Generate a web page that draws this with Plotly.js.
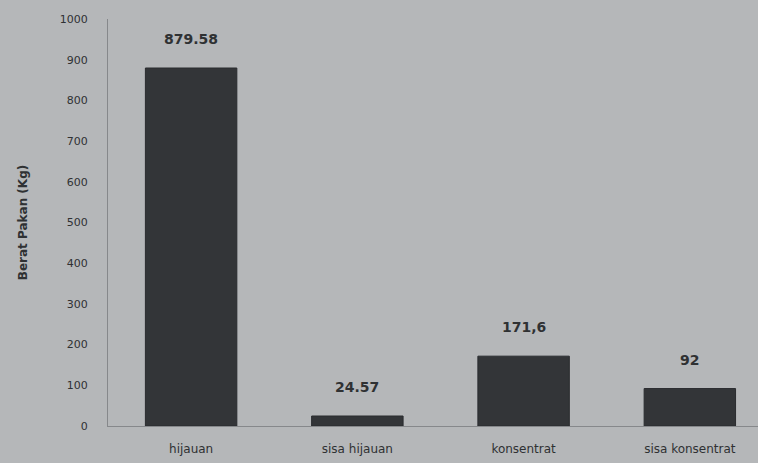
<!DOCTYPE html>
<html>
<head>
<meta charset="utf-8">
<script src="https://cdn.plot.ly/plotly-3.0.1.min.js"></script>
<style>
html,body{margin:0;padding:0;background:#b5b7b9;overflow:hidden;}
#chart{width:758px;height:463px;}
</style>
</head>
<body>
<div id="chart"></div>
<script>
var categories = ["hijauan", "sisa hijauan", "konsentrat", "sisa konsentrat"];
var values = [879.58, 24.57, 171.6, 92];
var valueLabels = ["879.58", "24.57", "171,6", "92"];
var yTicks = [0, 100, 200, 300, 400, 500, 600, 700, 800, 900, 1000];

var textColor = "#2f3133";
var font = "DejaVu Sans, Liberation Sans, sans-serif";

var trace = {
  type: "bar",
  x: categories,
  y: values,
  width: 0.55,
  marker: {color: "#333538", line: {color: "#2a2c2f", width: 1}},
  hoverinfo: "none"
};

var annotations = categories.map(function (c, i) {
  return {
    x: c, y: values[i], text: valueLabels[i],
    showarrow: false, yanchor: "middle", yshift: 29,
    font: {family: font, size: 14, color: textColor, weight: "bold"}
  };
});

var layout = {
  width: 758, height: 463,
  paper_bgcolor: "#b5b7b9",
  plot_bgcolor: "#b5b7b9",
  margin: {l: 108, r: 0, t: 19, b: 37},
  showlegend: false,
  xaxis: {
    type: "category",
    range: [-0.5, 3.41],
    showline: true, linecolor: "#86888b", linewidth: 1,
    showgrid: false, zeroline: false,
    ticks: "",
    tickfont: {family: font, size: 12, color: textColor},
    ticklabelstandoff: 12
  },
  yaxis: {
    range: [0, 1000],
    tickvals: yTicks,
    ticktext: yTicks.map(String),
    showline: true, linecolor: "#86888b", linewidth: 1,
    showgrid: false, zeroline: false,
    ticks: "",
    tickfont: {family: font, size: 11, color: textColor},
    ticklabelstandoff: 17,
    title: {text: "Berat Pakan (Kg)", standoff: 29,
            font: {family: font, size: 12, color: textColor, weight: "bold"}}
  },
  annotations: annotations
};

Plotly.newPlot("chart", [trace], layout, {displayModeBar: false, staticPlot: true});
</script>
</body>
</html>
